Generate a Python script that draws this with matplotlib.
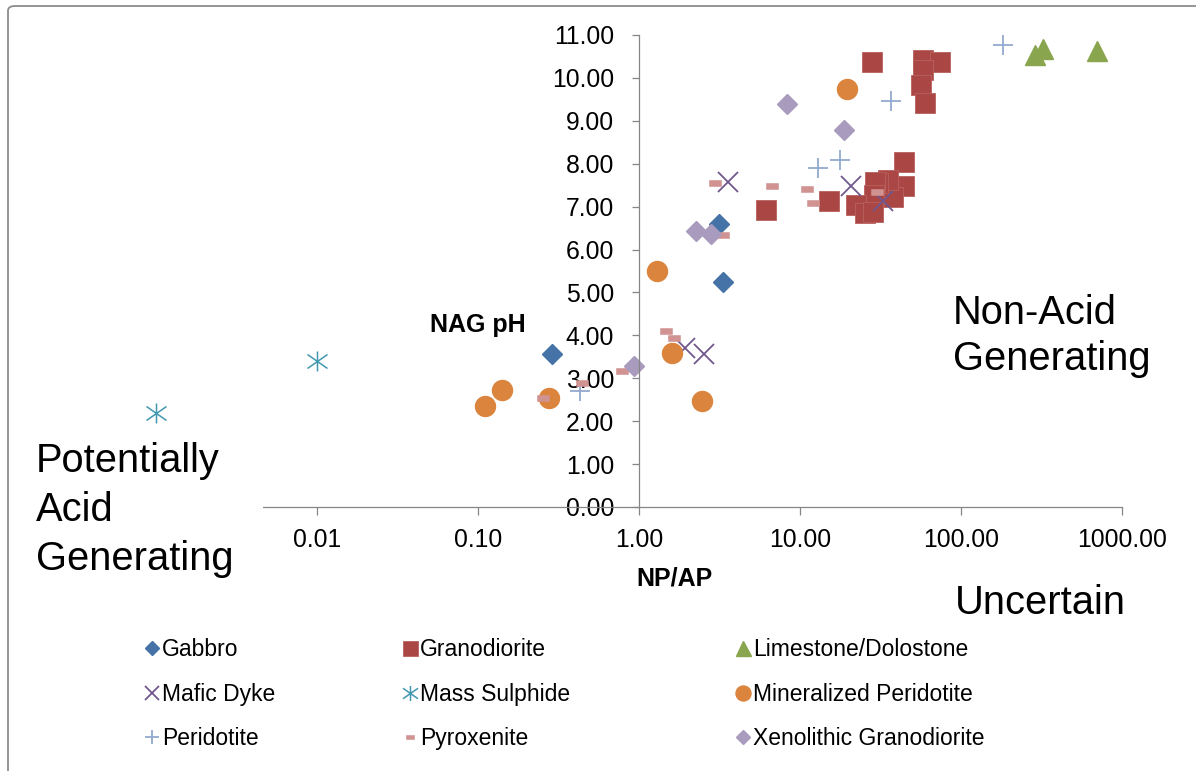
import numpy as np
import matplotlib
matplotlib.use("Agg")
import matplotlib.pyplot as plt
from matplotlib.path import Path
from matplotlib.patches import Rectangle, FancyBboxPatch

plt.rcParams['font.family'] = ['Liberation Sans', 'DejaVu Sans']

# NP/AP ratio vs NAG pH by rock type
gabbro_x = [0.29, 3.13, 3.31]
gabbro_y = [3.56, 6.59, 5.24]

granodiorite_x = [28.0, 58.3, 74.1, 58.3, 56.5, 59.5, 6.15, 15.2, 44.3, 44.3,
                  38.0, 35.4, 30.7, 29.2, 28.8, 22.2, 25.3, 28.5]
granodiorite_y = [10.36, 10.42, 10.36, 10.19, 9.84, 9.41, 6.92, 7.12, 8.03, 7.47,
                  7.23, 7.62, 7.55, 7.57, 7.27, 7.04, 6.85, 6.88]

limestone_x = [288, 324, 697]
limestone_y = [10.54, 10.67, 10.63]

mafic_x = [1.93, 2.55, 3.59, 20.7, 32.9]
mafic_y = [3.71, 3.56, 7.58, 7.47, 7.12]

sulphide_x = [0.001, 0.01]
sulphide_y = [2.18, 3.40]

min_perid_x = [0.11, 0.14, 0.277, 1.29, 1.61, 2.47, 19.7]
min_perid_y = [2.35, 2.73, 2.55, 5.49, 3.60, 2.47, 9.74]

perid_x = [0.43, 12.9, 17.7, 36.7, 183]
perid_y = [2.71, 7.90, 8.09, 9.47, 10.77]

pyrox_x = [0.255, 0.44, 0.78, 1.47, 1.65, 2.95, 3.34, 6.73, 11.0, 12.05, 30.2]
pyrox_y = [2.53, 2.88, 3.16, 4.11, 3.95, 7.55, 6.34, 7.49, 7.40, 7.08, 7.34]

xeno_x = [0.93, 2.26, 2.80, 8.27, 18.7]
xeno_y = [3.29, 6.43, 6.36, 9.39, 8.78]

x_ticks = [0.01, 0.1, 1, 10, 100, 1000]
y_ticks = list(range(0, 12))

W, H = 1196, 771


def fx(px):
    return px / W


def fy(py):
    return 1 - py / H


# excel-style asterisk and dash markers
star = Path([(0, -1), (0, 1), (-1, -0.7), (1, 0.7), (-1, 0.7), (1, -0.7)],
            [Path.MOVETO, Path.LINETO] * 3)
dash = Path([(-1, -0.5), (1, -0.5), (1, 0.5), (-1, 0.5), (-1, -0.5)],
            [Path.MOVETO, Path.LINETO, Path.LINETO, Path.LINETO, Path.CLOSEPOLY])

fig = plt.figure(figsize=(W / 100, H / 100), dpi=100)
ax = fig.add_axes([fx(156), fy(507), fx(1122) - fx(156), fy(35) - fy(507)])

series = [
    ('Gabbro', gabbro_x, gabbro_y, dict(marker='D', ms=10, color='#4572A7')),
    ('Granodiorite', granodiorite_x, granodiorite_y,
     dict(marker='s', ms=14.4, color='#AA4643', mec='#B9615E', mew=0.6)),
    ('Limestone/Dolostone', limestone_x, limestone_y,
     dict(marker='^', ms=14.4, color='#89A54E')),
    ('Mafic Dyke', mafic_x, mafic_y,
     dict(marker='x', ms=13.7, color='#71588F', mew=1.3)),
    ('Mass Sulphide', sulphide_x, sulphide_y,
     dict(marker=star, ms=14.4, color='#4198AF', mfc='none', mew=1.1)),
    ('Mineralized Peridotite', min_perid_x, min_perid_y,
     dict(marker='o', ms=14.4, color='#DB843D')),
    ('Peridotite', perid_x, perid_y,
     dict(marker='+', ms=13.7, color='#93A9CF', mew=1.3)),
    ('Pyroxenite', pyrox_x, pyrox_y,
     dict(marker=dash, ms=8.4, color='#D19392', mew=0.4)),
    ('Xenolithic Granodiorite', xeno_x, xeno_y,
     dict(marker='D', ms=10, color='#A99BBD')),
]

handles = {}
for name, xs, ys, style in series:
    line, = ax.plot(xs, ys, linestyle='none', clip_on=False, label=name, **style)
    handles[name] = line

ax.set_xscale('log')
ax.set_xlim(0.001, 1000)
ax.set_ylim(0, 11)
ax.set_xticks(x_ticks)
ax.set_xticklabels([f'{t:.2f}' for t in x_ticks])
ax.set_yticks(y_ticks)
ax.set_yticklabels([f'{t:.2f}' for t in y_ticks])
ax.minorticks_off()

axis_grey = '#868686'
for side in ['top', 'right']:
    ax.spines[side].set_visible(False)
ax.spines['left'].set_position(('data', 1))
for side in ['left', 'bottom']:
    ax.spines[side].set_color(axis_grey)
    ax.spines[side].set_linewidth(0.9)

ax.tick_params(axis='y', direction='out', length=5, width=0.9, color=axis_grey,
               labelsize=17.8, pad=13)
ax.tick_params(axis='x', direction='out', length=5.8, width=0.9, color=axis_grey,
               labelsize=17.8, pad=9.4)

fig.text(fx(478), fy(325), 'NAG pH', fontsize=18, fontweight='bold',
         ha='center', va='center')
fig.text(fx(675), fy(578), 'NP/AP', fontsize=18, fontweight='bold',
         ha='center', va='center')

# white text box on the left hides the start of the axis
fig.add_artist(Rectangle((fx(22), fy(592)), fx(263) - fx(22), fy(432) - fy(592),
                         transform=fig.transFigure, facecolor='white',
                         edgecolor='none', zorder=5))
fig.text(fx(36), fy(510), 'Potentially\nAcid\nGenerating', fontsize=28.7,
         ha='left', va='center', linespacing=1.35, zorder=6)
fig.text(fx(953), fy(336), 'Non-Acid\nGenerating', fontsize=28.7,
         ha='left', va='center', linespacing=1.3)
fig.text(fx(955), fy(603), 'Uncertain', fontsize=28.7, ha='left', va='center')

# legend, three columns
columns = [
    (152, ['Gabbro', 'Mafic Dyke', 'Peridotite']),
    (410, ['Granodiorite', 'Mass Sulphide', 'Pyroxenite']),
    (743, ['Limestone/Dolostone', 'Mineralized Peridotite', 'Xenolithic Granodiorite']),
]
for x_mark, names in columns:
    leg = fig.legend([handles[n] for n in names], names, loc='upper left',
                     bbox_to_anchor=(fx(x_mark - 8), fy(638)), frameon=False,
                     fontsize=16.5, numpoints=1, markerscale=0.75,
                     handlelength=0.7, handletextpad=0.1, labelspacing=0.94,
                     borderpad=0, borderaxespad=0)

# chart area border
fig.add_artist(FancyBboxPatch((fx(8), fy(820)), fx(1240) - fx(8), fy(6) - fy(820),
                              boxstyle='round,pad=0,rounding_size=0.006',
                              transform=fig.transFigure, facecolor='none',
                              edgecolor='#8C8C8C', linewidth=1.3, clip_on=False))

fig.savefig('out.png', dpi=100)
